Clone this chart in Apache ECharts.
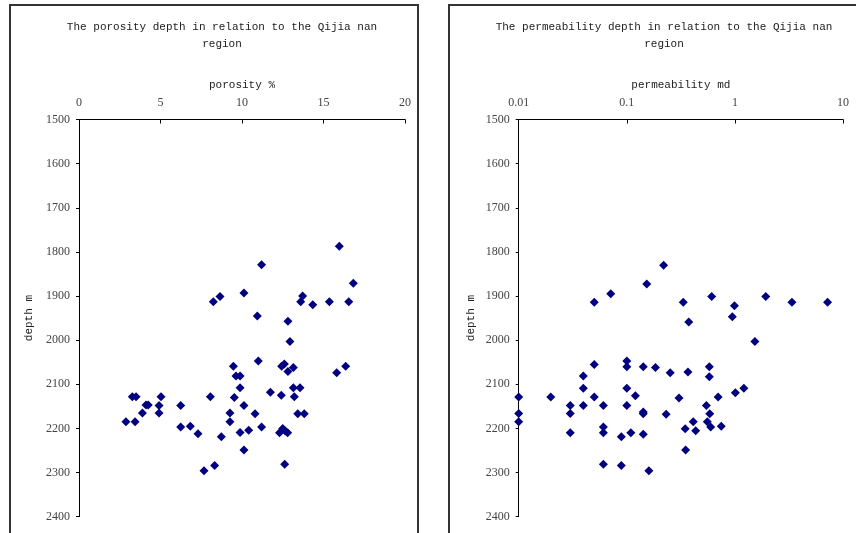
<!DOCTYPE html>
<html>
<head>
<meta charset="utf-8">
<script src="https://cdn.jsdelivr.net/npm/echarts@6/dist/echarts.min.js"></script>
<style>html,body{margin:0;padding:0;background:#fff;}#c{width:856px;height:533px;}</style>
</head>
<body>
<div id="c"></div>
<script>
// Porosity (%) vs depth (m)
const porosity = [15.97,11.2,16.83,8.24,8.65,10.12,13.72,13.6,14.34,15.36,16.55,10.94,12.82,12.94,11.0,9.47,12.43,12.6,12.82,13.15,15.81,16.36,9.63,9.88,9.88,13.15,13.56,11.74,12.41,13.21,3.27,3.5,5.03,8.06,9.53,4.11,4.25,4.91,6.24,10.12,3.89,4.91,9.26,10.8,13.42,13.82,2.88,3.44,9.26,6.24,6.83,7.3,8.73,9.88,10.41,11.2,12.3,12.5,12.65,12.8,10.12,12.62,8.32,7.67];
const porosityDepth = [1787,1829,1871,1913,1901,1893,1900,1913,1920,1913,1913,1945,1957,2003,2047,2059,2059,2054,2071,2062,2074,2059,2081,2081,2108,2108,2108,2118,2125,2128,2128,2128,2128,2128,2130,2147,2147,2148,2148,2148,2165,2165,2165,2167,2167,2167,2185,2185,2185,2197,2195,2212,2219,2209,2204,2197,2210,2200,2206,2210,2249,2281,2284,2296];
// Permeability (md) vs depth (m)
const permeability = [0.05,0.071,0.153,0.219,0.333,0.374,0.61,0.99,0.946,1.93,3.37,7.2,1.53,0.58,0.58,1.01,1.21,0.70,0.01,0.01,0.01,0.0198,0.030,0.030,0.030,0.0396,0.0396,0.0396,0.05,0.05,0.0607,0.0607,0.0607,0.0607,0.089,0.089,0.1,0.1,0.1,0.1,0.109,0.12,0.142,0.142,0.142,0.142,0.16,0.184,0.231,0.252,0.304,0.368,0.347,0.35,0.412,0.434,0.545,0.585,0.556,0.597,0.748];
const permeabilityDepth = [1914,1895,1873,1830,1914,1959,1901,1922,1947,1901,1914,1914,2003,2060,2083,2119,2109,2129,2129,2166,2185,2129,2148,2166,2210,2081,2109,2148,2055,2129,2148,2197,2210,2281,2219,2284,2047,2060,2109,2148,2210,2126,2060,2163,2167,2213,2296,2062,2168,2074,2131,2072,2201,2249,2185,2205,2148,2167,2185,2197,2195];
const porosityTicks = [0,5,10,15,20];
const depthRange = [1500,2400];

const chart = echarts.init(document.getElementById('c'), null, {renderer:'canvas'});
const mono = 'Liberation Mono';
const serif = 'Liberation Serif';
const titleStyle = {fontFamily: mono, fontSize: 11, fontWeight: 'normal', color: '#222', lineHeight: 17};
const tickLabel = {fontFamily: serif, fontSize: 12, color: '#444'};
const nameStyle = {fontFamily: mono, fontSize: 11, color: '#222'};

function yAx(gi){
  return {
    gridIndex: gi, type:'value', inverse:true, min:depthRange[0], max:depthRange[1], interval:100,
    name:'depth m', nameLocation:'middle', nameGap: gi===0?44:42, nameRotate:90, nameTextStyle: nameStyle,
    axisLine:{show:true, lineStyle:{color:'#000', width:1}},
    axisTick:{show:true, inside:false, length:3, lineStyle:{color:'#000'}},
    axisLabel:Object.assign({margin:9, formatter:function(v){return String(v);}}, tickLabel),
    splitLine:{show:false}
  };
}

chart.setOption({
  animation:false,
  title:[
    {text:'The porosity depth in relation to the Qijia nan\nregion', left:217, top:14, textAlign:'center', textStyle:titleStyle},
    {text:'The permeability depth in relation to the Qijia nan\nregion', left:659, top:14, textAlign:'center', textStyle:titleStyle}
  ],
  graphic:[
    {type:'rect', shape:{x:10, y:5, width:408, height:540}, style:{fill:null, stroke:'#333', lineWidth:2}},
    {type:'rect', shape:{x:449, y:5, width:420, height:540}, style:{fill:null, stroke:'#333', lineWidth:2}}
  ],
  grid:[
    {left:79, right:451, top:119.5, bottom:16.3},
    {left:518.7, right:13, top:119.5, bottom:16.3}
  ],
  xAxis:[
    {gridIndex:0, type:'value', position:'top', min:porosityTicks[0], max:porosityTicks[porosityTicks.length-1], interval:5,
     name:'porosity %', nameLocation:'middle', nameGap:29, nameTextStyle:nameStyle,
     axisLine:{show:true, lineStyle:{color:'#000'}}, axisTick:{show:true, inside:true, length:4, lineStyle:{color:'#000'}},
     axisLabel:Object.assign({margin:11}, tickLabel), splitLine:{show:false}},
    {gridIndex:1, type:'log', logBase:10, position:'top', min:0.01, max:10,
     name:'permeability md', nameLocation:'middle', nameGap:29, nameTextStyle:nameStyle,
     axisLine:{show:true, lineStyle:{color:'#000'}}, axisTick:{show:true, inside:true, length:4, lineStyle:{color:'#000'}},
     axisLabel:Object.assign({margin:11, formatter:function(v){return String(v);}}, tickLabel), splitLine:{show:false}, minorTick:{show:false}}
  ],
  yAxis:[yAx(0), yAx(1)],
  series:[
    {type:'scatter', xAxisIndex:0, yAxisIndex:0, symbol:'diamond', symbolSize:9, itemStyle:{color:'#000080', opacity:1},
     data: porosity.map((v,i)=>[v, porosityDepth[i]])},
    {type:'scatter', xAxisIndex:1, yAxisIndex:1, symbol:'diamond', symbolSize:9, itemStyle:{color:'#000080', opacity:1},
     data: permeability.map((v,i)=>[v, permeabilityDepth[i]])}
  ]
});
</script>
</body>
</html>
